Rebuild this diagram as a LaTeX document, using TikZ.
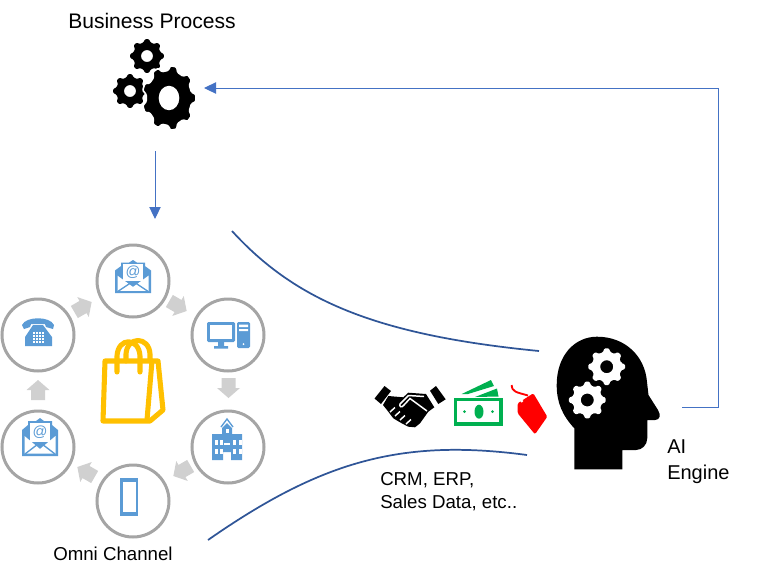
\documentclass[tikz,border=0pt]{standalone}
\usepackage{fontspec}
\setmainfont{Liberation Sans}
\usetikzlibrary{arrows.meta}

\definecolor{flowblue}{RGB}{68,114,196}
\definecolor{curveblue}{RGB}{47,85,151}
\definecolor{iconblue}{RGB}{91,155,213}
\definecolor{ringgray}{RGB}{165,165,165}
\definecolor{stepgray}{RGB}{208,208,208}
\definecolor{baggold}{RGB}{255,192,0}
\definecolor{moneygreen}{RGB}{0,176,80}

\tikzset{
  channel/.style={circle,draw=ringgray,line width=2.25pt,minimum size=54pt,inner sep=0pt},
  flowline/.style={draw=flowblue,line width=0.75pt,-{Triangle[length=9pt,width=8.5pt]}},
  curveline/.style={draw=curveblue,line width=1.3pt},
  label/.style={anchor=north west,inner sep=0.75pt,align=left},
  bagline/.style={draw=baggold,line width=3.8pt,line join=round,line cap=round},
  whiteline/.style={draw=white,line width=1.1pt}
}

% cog: options, x, y, outer, inner, hole, teeth
\newcommand{\cog}[7][]{%
  \fill[shift={(#2,#3)},even odd rule,rounded corners=0.8pt,#1]
    ({-0.31*360/#7}:#5) \foreach \k in {1,...,#7} {
      -- ({(\k-1.31)*360/#7}:#5) -- ({(\k-1.16)*360/#7}:#4)
      -- ({(\k-0.84)*360/#7}:#4) -- ({(\k-0.69)*360/#7}:#5) } -- cycle
    (0,0) circle (#6);}

% grey step arrow: x, y, direction
\newcommand{\steparrow}[3]{%
  \fill[stepgray,shift={(#1,#2)},rotate=#3]
    (0,-10) -- (11.5,0) -- (7,0) -- (7,10) -- (-7,10) -- (-7,0) -- (-11.5,0) -- cycle;}

% mail: x, y, yscale
\newcommand{\mailicon}[3]{%
  \begin{scope}[shift={(#1,#2)},yscale=#3]
    \fill[iconblue] (0,12) -- (6,7) -- (6,3) -- (14,3) -- (18,0) -- (22,3) -- (30,3) -- (30,7) -- (36,12) -- (36,38) -- (0,38) -- cycle;
    \fill[white] (8,5) rectangle (28,24);
    \fill[white] (2.5,18) -- (18,31) -- (33.5,18) -- (33.5,35.5) -- (2.5,35.5) -- cycle;
    \draw[iconblue,line width=1pt] (3,36) -- (16,26) -- (20,26) -- (33,36);
    \node (at#1) [text=iconblue,inner sep=0pt,font=\fontsize{11}{11}\selectfont] at (18,14) {@};
  \end{scope}}

\begin{document}
\begin{tikzpicture}[x=0.75pt,y=0.75pt,yscale=-1,xscale=1]
    \useasboundingbox (0,0) rectangle (765,576);

    % Channel rings
    \node (ringMailTop) [channel] at (133,281) {};
    \node (ringScreen) [channel] at (228,335) {};
    \node (ringSchool) [channel] at (228,447) {};
    \node (ringMobile) [channel] at (133,501) {};
    \node (ringMailLow) [channel] at (38,447) {};
    \node (ringPhone) [channel] at (38,335) {};

    % Step arrows
    \steparrow{83}{307}{60}
    \steparrow{178}{306}{120}
    \steparrow{228.5}{388}{180}
    \steparrow{182}{471}{240}
    \steparrow{86}{472}{300}
    \steparrow{38}{390}{0}

    % Mail icons
    \mailicon{115}{260}{0.87}
    \mailicon{22}{418}{1}

    % Desk phone
    \fill[iconblue] (22,325) .. controls (26,316) and (50,316) .. (54,325) -- (53,329) -- (46,327) -- (45,324) -- (31,324) -- (30,327) -- (24,329) -- cycle;
    \fill[iconblue] (33,325) -- (43,325) -- (52,337) -- (52,346) -- (25,346) -- (25,337) -- cycle;
    \foreach \i in {0,1,2,3}
      \foreach \j in {0,1,2,3}
        \fill[white] (33+2.9*\i,332+3*\j) rectangle +(1.9,1.9);

    % Computer
    \fill[iconblue,rounded corners=1pt] (207,322) rectangle (235,342);
    \fill[white] (210,325) rectangle (232,339);
    \fill[iconblue] (218,342) rectangle (224,346) (214,346) rectangle (228,348.5);
    \fill[iconblue,rounded corners=1pt] (237,322) rectangle (250,348);
    \fill[white] (239,324.5) rectangle (248,327) (239,329) rectangle (248,331);
    \fill[white] (243.5,344) circle (1);

    % School
    \fill[iconblue] (212,434) -- (222,434) -- (222,428) -- (227,423) -- (232,428) -- (232,434) -- (242,434) -- (242,460) -- (231,460) -- (231,452) -- (223,452) -- (223,460) -- (212,460) -- cycle;
    \draw[iconblue,line width=1pt] (221,427) -- (227,419) -- (233,427);
    \foreach \i in {214.5,220,233,238.5} {
      \fill[white] (\i,440) rectangle +(3.2,5);
      \fill[white] (\i,449) rectangle +(3.2,5);
    }
    \fill[white] (225.5,429) rectangle (228.5,433);
    \fill[white] (224,443) rectangle (230,445);

    % Mobile
    \fill[iconblue] (120,478) rectangle (138,516);
    \fill[white] (122.5,482) rectangle (135.5,512);

    % Bag
    \draw[bagline] (105,361) -- (158,361) -- (163,410) -- (150,421) -- (103,421) -- cycle;
    \draw[bagline] (152,361) -- (147,420);
    \draw[bagline] (117,372) -- (117,356) .. controls (118,337) and (139,337) .. (140,356) -- (140,372);
    \draw[bagline] (126,361) -- (126,354) .. controls (127,336) and (149,336) .. (150,354) -- (150,361);

    % Gears of the process
    \cog{147}{56}{17}{14}{6}{8}
    \cog{130}{91}{17}{14}{6}{8}
    \begin{scope}[shift={(169,98)},yscale=1.2]
      \cog[draw=white,line width=1.2pt]{0}{0}{27}{23}{9.5}{9}
    \end{scope}

    % Head
    \fill (574.3,469.3) -- (574.3,428.3) .. controls (562,415) and (556.7,402) .. (556.7,385)
      .. controls (556.7,355) and (575,336.7) .. (597,336.7)
      .. controls (625,336.7) and (645,356) .. (647,382)
      -- (648.5,395) -- (658,410) .. controls (661,415) and (660,420) .. (655,420)
      -- (647.3,420) -- (647.3,438) .. controls (647.3,445) and (642,450) .. (636,450)
      -- (622.3,450) -- (622.3,469.3) -- cycle;
    \cog[white]{606.7}{366.7}{18.5}{15}{6.5}{8}
    \cog[white]{587.3}{400}{18.5}{15}{6.5}{8}

    % Handshake
    \fill (374.5,398.5) -- (384.5,386) -- (391,391) -- (381,404) -- cycle;
    \fill (430,390.7) -- (436,386) -- (445.7,399.3) -- (438.3,404) -- cycle;
    \fill (388.3,396) -- (403.3,397.3) -- (408.3,392.7) -- (426,394) -- (434.3,407.3) -- (428.3,411.7) -- (420,423.3) -- (415,427.3) -- (408.3,426.7) -- (401.7,423.3) -- (393.3,418.3) -- (388.3,411.7) -- (383,405) -- cycle;
    \draw[whiteline] (427,411) -- (410,398.5) -- (404,405) .. controls (402,408) and (399,407) .. (400,404) -- (408.5,395.5) -- (424,396.5);
    \draw[whiteline] (390,412) -- (395,407.5) (395,416) -- (400,411.5) (400,420) -- (405,415.5) (406,424) -- (411,419.5);

    % Money
    \draw[moneygreen,line width=2.6pt] (455.5,399.5) rectangle (501,423.8);
    \fill[moneygreen] (479,411.7) ellipse (4.5 and 7);
    \fill[moneygreen] (464.5,411.7) circle (1.5) (492.5,411.7) circle (1.5);
    \fill[moneygreen] (461.7,394) -- (491,380) -- (494,386) -- (468,394) -- cycle;
    \fill[moneygreen] (475,397) -- (497,388.5) -- (498.5,396.5) -- cycle;

    % Price tag
    \fill[red,rounded corners=1pt] (517.7,403.3) -- (533.3,393.3) -- (547.3,416.7) -- (535,434.3) -- (517.7,413.3) -- cycle;
    \fill[white] (521.7,401) circle (1.6);
    \draw[red,line width=1.4pt] (511.7,385) .. controls (512,392) and (516,392) .. (528,395.5);

    % Feedback path
    \coordinate (engineOut) at (682,407);
    \coordinate (feedCorner) at (718,407);
    \coordinate (feedTop) at (718,88);
    \coordinate (gearIn) at (204,88);
    \draw[flowline] (engineOut) -- (feedCorner) -- (feedTop) -- (gearIn);
    \coordinate (gearOut) at (155,151);
    \coordinate (ringIn) at (155,219);
    \draw[flowline] (gearOut) -- (ringIn);

    % Funnel curves
    \coordinate (upperStart) at (232,231);
    \coordinate (upperEnd) at (539,351);
    \coordinate (lowerStart) at (208,540);
    \coordinate (lowerEnd) at (527,455);
    \draw[curveline] (upperStart) .. controls (295,300) and (375,335) .. (upperEnd);
    \draw[curveline] (lowerStart) .. controls (320,462) and (400,438) .. (lowerEnd);

    % Text Node
    \node (titleProcess) [label,font=\fontsize{15.8}{18}\selectfont] at (67,12) {Business Process};
    % Text Node
    \node (titleChannel) [label,font=\fontsize{14}{18}\selectfont] at (52,546) {Omni Channel};
    % Text Node
    \node (titleData) [label,font=\fontsize{14}{17.6}\selectfont] at (379,471) {CRM, ERP,\\Sales Data, etc..};
    % Text Node
    \node (titleEngine) [label,font=\fontsize{15}{19.5}\selectfont] at (666,438.5) {AI\\Engine};
\end{tikzpicture}
\end{document}
